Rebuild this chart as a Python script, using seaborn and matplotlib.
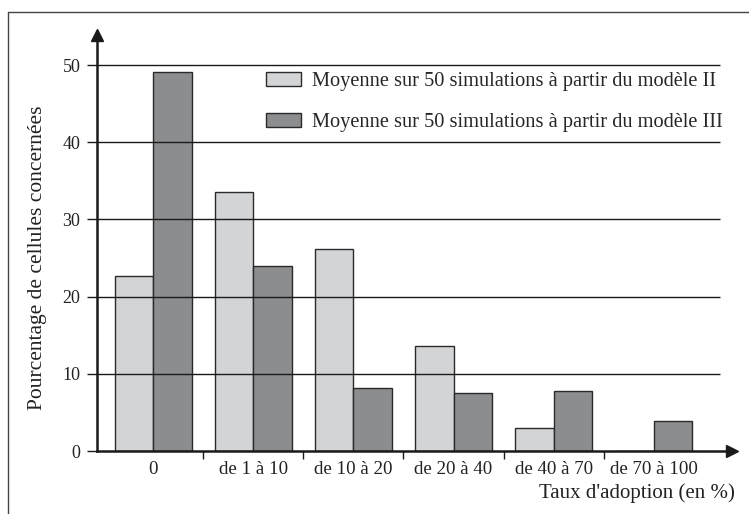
import matplotlib
matplotlib.use("Agg")
import matplotlib.pyplot as plt
import seaborn as sns
import pandas as pd
from matplotlib.lines import Line2D

categories = ["0", "de 1 à 10", "de 10 à 20", "de 20 à 40", "de 40 à 70", "de 70 à 100"]
series_names = ["Moyenne sur 50 simulations à partir du modèle II",
                "Moyenne sur 50 simulations à partir du modèle III"]
model_II = [22.7, 33.5, 26.2, 13.6, 3.0, 0.0]
model_III = [49.1, 24.0, 8.1, 7.5, 7.8, 3.9]
yticks = [0, 10, 20, 30, 40, 50]

df = pd.DataFrame({
    "cat": categories * 2,
    "val": model_II + model_III,
    "model": [series_names[0]] * len(categories) + [series_names[1]] * len(categories),
})

sns.set_theme(style="white")
plt.rcParams["font.family"] = ["Liberation Serif", "DejaVu Serif"]

W, H = 749, 514
fig = plt.figure(figsize=(W / 100, H / 100), dpi=100)
ax = fig.add_axes([97 / W, (H - 451) / H, (732 - 97) / W, (451 - 35) / H])

light, dark = "#d3d4d6", "#8c8d8f"
sns.barplot(data=df, x="cat", y="val", hue="model", order=categories,
            hue_order=series_names, palette=[light, dark], width=0.77,
            edgecolor="#2a2a2a", linewidth=1.0, ax=ax, zorder=2)

ax.set_xlim(-0.56, 5.78)
ax.set_ylim(0, 53.9)

# gridlines drawn over bars
for y in yticks[1:]:
    ax.hlines(y, -0.56, 5.66, color="#1a1a1a", linewidth=1.0, zorder=3)

ax.set_yticks(yticks)
ax.set_yticklabels([str(t) for t in yticks], fontsize=13, color="#222")
ax.tick_params(axis="y", length=7, width=1.0, color="#1a1a1a", direction="out", pad=5, left=True)
ax.tick_params(axis="x", which="major", length=0, pad=7, labelsize=13.6, labelcolor="#222")
ax.set_xticks([0.5, 1.5, 2.5, 3.5, 4.5], minor=True)
ax.tick_params(axis="x", which="minor", length=6, width=1.0, color="#1a1a1a", direction="out", bottom=True)

for s in ["top", "right"]:
    ax.spines[s].set_visible(False)
for s in ["left", "bottom"]:
    ax.spines[s].set_linewidth(1.8)
    ax.spines[s].set_color("#1a1a1a")
    ax.spines[s].set_zorder(4)
ax.plot(1, 0, ">", color="#1a1a1a", markersize=8, transform=ax.transAxes, clip_on=False, zorder=5)
ax.plot(0, 1, "^", color="#1a1a1a", markersize=8, transform=ax.transAxes, clip_on=False, zorder=5)

ax.set_ylabel("Pourcentage de cellules concernées", fontsize=15.5, color="#222")
ax.yaxis.set_label_coords((47 - 97) / 635, (451 - 258) / 416)
ax.set_xlabel("")
fig.text(735 / W, 1 - 493 / H, "Taux d'adoption (en %)", ha="right", va="center",
         fontsize=15, color="#222")

handles, labels = ax.get_legend_handles_labels()
ax.legend(handles, labels, loc="upper left", bbox_to_anchor=(266 / W, 1 - 72 / H),
          bbox_transform=fig.transFigure, frameon=False, fontsize=14.7,
          handlelength=1.7, handleheight=0.7, handletextpad=0.55, labelspacing=1.05,
          borderaxespad=0, borderpad=0)

# outer frame
fig.add_artist(Line2D([8 / W, 8 / W], [0, 1 - 12 / H], transform=fig.transFigure,
                      color="#444", linewidth=1.0))
fig.add_artist(Line2D([8 / W, 1], [1 - 12 / H, 1 - 12 / H], transform=fig.transFigure,
                      color="#444", linewidth=1.0))

fig.savefig("out.png", dpi=100)
